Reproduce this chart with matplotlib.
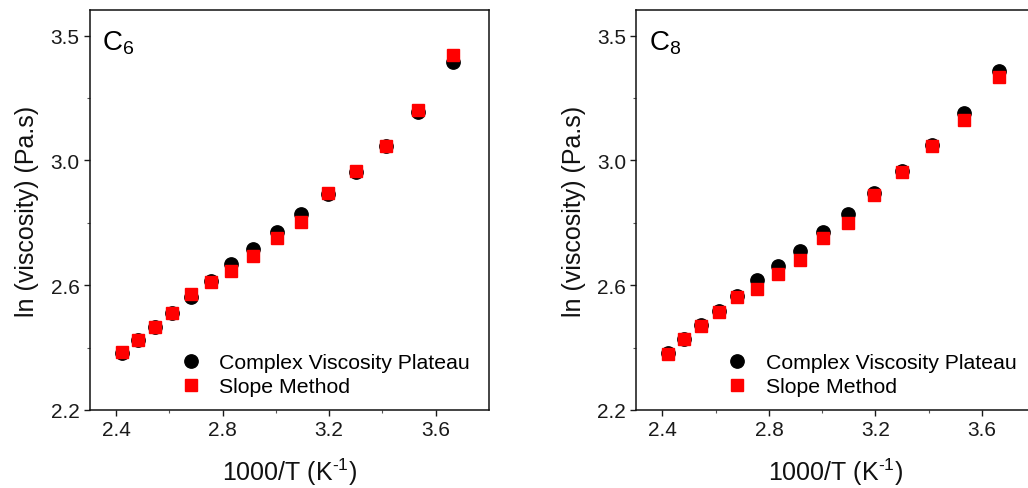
import matplotlib
matplotlib.use("Agg")
import matplotlib.pyplot as plt

plt.rcParams['font.family'] = ['Liberation Sans', 'DejaVu Sans']
plt.rcParams['mathtext.fontset'] = 'custom'
plt.rcParams['mathtext.rm'] = 'Liberation Sans'
plt.rcParams['mathtext.default'] = 'regular'

# 1000/T values (K^-1)
inv_T = [2.421, 2.481, 2.545, 2.611, 2.681, 2.755, 2.833, 2.915, 3.003,
         3.096, 3.195, 3.300, 3.413, 3.534, 3.663]

# C6 panel
c6_plateau = [2.382, 2.425, 2.466, 2.512, 2.561, 2.614, 2.667, 2.717, 2.772,
              2.828, 2.892, 2.963, 3.047, 3.154, 3.315]
c6_slope = [2.386, 2.425, 2.466, 2.512, 2.571, 2.611, 2.646, 2.694, 2.752,
            2.801, 2.894, 2.965, 3.047, 3.163, 3.338]

# C8 panel
c8_plateau = [2.384, 2.429, 2.474, 2.518, 2.564, 2.616, 2.662, 2.710, 2.769,
              2.828, 2.897, 2.967, 3.049, 3.151, 3.288]
c8_slope = [2.380, 2.427, 2.470, 2.514, 2.563, 2.587, 2.635, 2.681, 2.751,
            2.799, 2.889, 2.962, 3.047, 3.128, 3.266]

panels = ["C$_6$", "C$_8$"]
legend_labels = ["Complex Viscosity Plateau", "Slope Method"]
x_major = [2.4, 2.8, 3.2, 3.6]
x_minor = [2.6, 3.0, 3.4]
y_major = [2.2, 2.6, 3.0, 3.4]
y_major_labels = ["2.2", "2.6", "3.0", "3.5"]
y_minor = [2.4, 2.8, 3.2]

W, H = 1028, 489
fig = plt.figure(figsize=(W / 100, H / 100), dpi=100)

axes_px = [(90, 11, 399, 400), (636.3, 11, 399, 400)]
data = [(c6_plateau, c6_slope), (c8_plateau, c8_slope)]

tick_col = '#1a1a1a'
for (lx, ty, w, h), (pl, sl), title in zip(axes_px, data, panels):
    ax = fig.add_axes([lx / W, 1 - (ty + h) / H, w / W, h / H])
    ax.plot(inv_T, pl, 'o', color='black', markersize=9.6, linestyle='none',
            label=legend_labels[0], zorder=3)
    ax.plot(inv_T, sl, 's', color='#ff0000', markersize=8.6, linestyle='none',
            label=legend_labels[1], zorder=4)
    ax.set_xlim(2.302, 3.80)
    ax.set_ylim(2.2, 3.482)
    ax.set_xticks(x_major)
    ax.set_xticklabels([f"{v:.1f}" for v in x_major])
    ax.set_xticks(x_minor, minor=True)
    ax.set_yticks(y_major)
    ax.set_yticklabels(y_major_labels)
    ax.set_yticks(y_minor, minor=True)
    ax.tick_params(which='major', direction='out', length=4.5, width=1,
                   labelsize=15, colors=tick_col, pad=3)
    ax.tick_params(which='minor', direction='out', length=2.3, width=0.8,
                   colors='#555555')
    ax.tick_params(top=False, right=False)
    for s in ax.spines.values():
        s.set_linewidth(1.1)
        s.set_color('#111111')
    ax.set_xlabel("1000/T (K$^{\\text{-1}}$)", fontsize=18, color='#111111', labelpad=12)
    ax.set_ylabel("ln (viscosity) (Pa.s)", fontsize=18, color='#111111', labelpad=8)
    ax.text(0.031, 0.902, title, transform=ax.transAxes, fontsize=20,
            va='baseline', ha='left', color='black')
    ax.legend(loc='center left', bbox_to_anchor=(0.226, 0.088), frameon=False,
              fontsize=15.3, handlelength=1.0, handletextpad=0.85,
              labelspacing=0.25, borderpad=0, borderaxespad=0, markerscale=1.0)

fig.savefig("out.png", dpi=100)
